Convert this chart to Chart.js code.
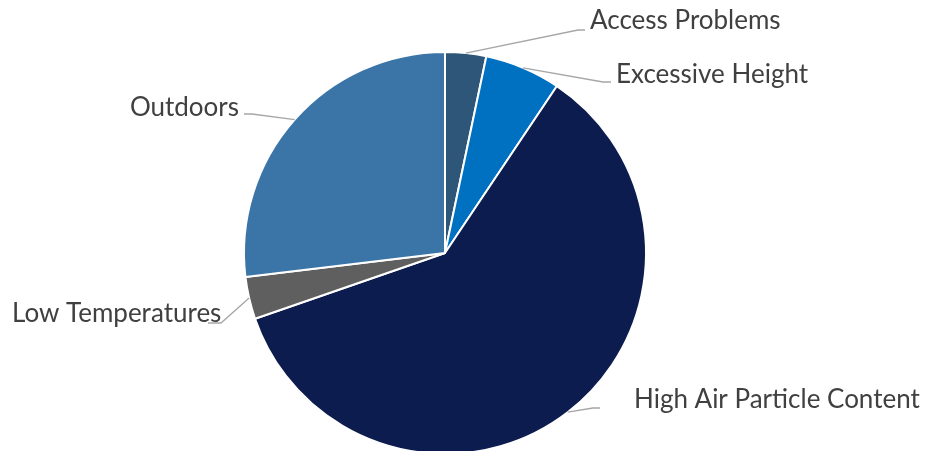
<!DOCTYPE html>
<html>
<head>
<meta charset="utf-8">
<script src="https://cdn.jsdelivr.net/npm/chart.js@4.4.1/dist/chart.umd.min.js"></script>
<style>
  html, body { margin: 0; padding: 0; background: #fff; overflow: hidden; }
  #wrap { width: 928px; height: 506px; }
</style>
</head>
<body>
<div id="wrap"><canvas id="pie" width="928" height="506"></canvas></div>
<script>
// Données du graphique
const categories = ['Access Problems', 'Excessive Height', 'High Air Particle Content', 'Low Temperatures', 'Outdoors'];
const shares = [3.3, 6.1, 60.3, 3.4, 26.9];
const sliceColors = ['#2E5679', '#0070C0', '#0D1C4F', '#5F5F5F', '#3B75A7'];

// Placement des étiquettes (coude de la ligne + texte), à la manière d'Excel
const labelLayout = [
  { elbow: [578, 30], end: [585, 30], tx: 590, ty: 29, align: 'left' },
  { elbow: [603, 82], end: [611, 82], tx: 616, ty: 83, align: 'left' },
  { elbow: [593, 408], end: [600, 408], tx: 634, ty: 408, align: 'left' },
  { elbow: [221, 323], end: [208, 323], tx: 12, ty: 322, align: 'left' },
  { elbow: [252, 114], end: [244, 114], tx: 239, ty: 116, align: 'right' }
];

// Plugin : lignes de rappel et étiquettes à l'extérieur
const outsideLabels = {
  id: 'outsideLabels',
  afterDatasetsDraw(chart) {
    const ctx = chart.ctx;
    const meta = chart.getDatasetMeta(0);
    ctx.save();
    meta.data.forEach((arc, i) => {
      const lay = labelLayout[i];
      const p = arc.getProps(['x', 'y', 'startAngle', 'endAngle', 'outerRadius'], true);
      const mid = (p.startAngle + p.endAngle) / 2;
      const ex = p.x + Math.cos(mid) * p.outerRadius;
      const ey = p.y + Math.sin(mid) * p.outerRadius;
      ctx.strokeStyle = '#A6A6A6';
      ctx.lineWidth = 1.3;
      ctx.beginPath();
      ctx.moveTo(ex, ey);
      ctx.lineTo(lay.elbow[0], lay.elbow[1]);
      ctx.lineTo(lay.end[0], lay.end[1]);
      ctx.stroke();
      ctx.fillStyle = '#404040';
      ctx.font = '26px Lato, "Open Sans", sans-serif';
      ctx.textAlign = lay.align;
      ctx.textBaseline = 'alphabetic';
      ctx.fillText(categories[i], lay.tx, lay.ty);
    });
    ctx.restore();
  }
};

new Chart(document.getElementById('pie'), {
  type: 'pie',
  data: {
    labels: categories,
    datasets: [{
      data: shares,
      backgroundColor: sliceColors,
      borderColor: '#FFFFFF',
      borderWidth: 2,
      radius: 201
    }]
  },
  options: {
    responsive: false,
    animation: false,
    layout: { padding: { left: 0, right: 38, top: 0, bottom: 0 } },
    plugins: {
      legend: { display: false },
      tooltip: { enabled: false }
    }
  },
  plugins: [outsideLabels]
});
</script>
</body>
</html>
